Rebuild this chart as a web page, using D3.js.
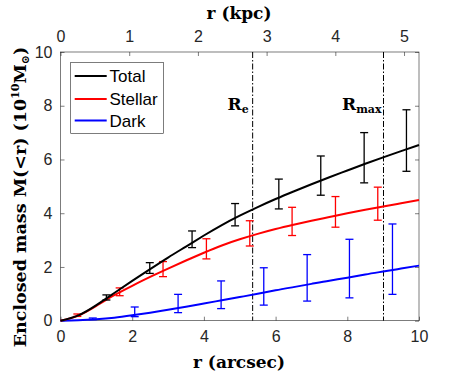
<!DOCTYPE html>
<html>
<head>
<meta charset="utf-8">
<script src="https://cdn.jsdelivr.net/npm/d3@7"></script>
<style>
body { margin: 0; background: #fff; }
</style>
</head>
<body>
<div id="chart"></div>
<script>
// curve samples (arcsec, 10^10 Msun)
var curve_r = [0, 0.5, 1, 1.5, 2, 2.5, 3, 3.5, 4, 4.5, 5, 5.5, 6, 6.5, 7, 7.5, 8, 8.5, 9, 9.5, 10];
var total_m = [0, 0.2, 0.58, 1.03, 1.48, 1.92, 2.35, 2.76, 3.17, 3.56, 3.91, 4.23, 4.53, 4.81, 5.08, 5.34, 5.59, 5.84, 6.08, 6.31, 6.54];
var stellar_m = [0, 0.19, 0.55, 0.95, 1.3, 1.63, 1.94, 2.24, 2.53, 2.8, 3.03, 3.23, 3.41, 3.57, 3.72, 3.86, 4.0, 4.13, 4.25, 4.37, 4.49];
var dark_m = [0, 0.015, 0.05, 0.11, 0.2, 0.3, 0.41, 0.52, 0.64, 0.76, 0.88, 1.0, 1.13, 1.25, 1.37, 1.49, 1.6, 1.72, 1.83, 1.94, 2.05];

// error bars
var total_err_r = [1.28, 2.49, 3.67, 4.87, 6.09, 7.26, 8.47, 9.65];
var total_err_lo = [0.77, 1.76, 2.72, 3.53, 4.16, 4.67, 5.13, 5.56];
var total_err_hi = [0.96, 2.16, 3.34, 4.36, 5.27, 6.13, 7.0, 7.85];
var stellar_err_r = [0.47, 1.65, 2.86, 4.07, 5.28, 6.46, 7.67, 8.85];
var stellar_err_lo = [0.16, 0.93, 1.64, 2.30, 2.78, 3.17, 3.48, 3.74];
var stellar_err_hi = [0.25, 1.22, 2.2, 3.05, 3.72, 4.22, 4.62, 4.97];
var dark_err_r = [0.9, 2.07, 3.28, 4.48, 5.67, 6.88, 8.06, 9.26];
var dark_err_lo = [0.04, 0.15, 0.3, 0.45, 0.58, 0.73, 0.85, 0.98];
var dark_err_hi = [0.1, 0.51, 0.98, 1.48, 1.97, 2.46, 3.03, 3.6];

var series_names = ["Total", "Stellar", "Dark"];
var series_colors = ["#000000", "#ff0000", "#0000ff"];

var x_ticks = [0, 2, 4, 6, 8, 10];
var y_ticks = [0, 2, 4, 6, 8, 10];
var kpc_ticks = [0, 1, 2, 3, 4, 5];
var kpc_max = 5.218; // kpc at 10 arcsec
var r_e = 5.36, r_max = 9.01;

var w = 463, h = 373;
var pad_left = 60.5, pad_right = 419, pad_top = 52, pad_bottom = 320.7;
var axis_col = "#262626";
var tick_font = "'Liberation Sans', Arial, sans-serif";
var label_font = "'DejaVu Serif', 'Liberation Serif', serif";

var svg = d3.select("#chart").append("svg").attr("width", w).attr("height", h);

var xScale = d3.scaleLinear().domain([0, 10]).range([pad_left, pad_right]);
var kpcScale = d3.scaleLinear().domain([0, kpc_max]).range([pad_left, pad_right]);
var yScale = d3.scaleLinear().domain([0, 10]).range([pad_bottom, pad_top]);

function styleAxis(g) {
    g.select(".domain").remove();
    g.selectAll(".tick line").attr("stroke", axis_col).attr("stroke-width", 0.6);
    g.selectAll(".tick text").attr("fill", axis_col).attr("font-family", tick_font).attr("font-size", "16px");
}

// axes (ticks pointing inward)
svg.append("g").attr("transform", "translate(0," + pad_bottom + ")")
    .call(d3.axisBottom(xScale).tickValues(x_ticks).tickSizeInner(-4).tickPadding(10))
    .call(styleAxis);
svg.append("g").attr("transform", "translate(0," + pad_top + ")")
    .call(d3.axisTop(kpcScale).tickValues(kpc_ticks).tickFormat(d3.format("d")).tickSizeInner(-4).tickPadding(10))
    .call(styleAxis);
svg.append("g").attr("transform", "translate(" + pad_left + ",0)")
    .call(d3.axisLeft(yScale).tickValues(y_ticks).tickSizeInner(-4).tickPadding(8))
    .call(styleAxis);
svg.append("g").attr("transform", "translate(" + pad_right + ",0)")
    .call(d3.axisRight(yScale).tickValues(y_ticks).tickSizeInner(-4).tickFormat(""))
    .call(styleAxis);

// box
svg.append("rect")
    .attr("x", pad_left).attr("y", pad_top)
    .attr("width", pad_right - pad_left).attr("height", pad_bottom - pad_top)
    .attr("fill", "none").attr("stroke", axis_col).attr("stroke-width", 0.6);

// Re / Rmax lines
[r_e, r_max].forEach(function (r) {
    svg.append("line")
        .attr("x1", xScale(r)).attr("x2", xScale(r))
        .attr("y1", pad_top).attr("y2", pad_bottom)
        .attr("stroke", "#000").attr("stroke-width", 1)
        .attr("stroke-dasharray", "6,2,1.5,2");
});

var re_txt = svg.append("text").attr("x", xScale(r_e) - 4).attr("y", 110)
    .attr("text-anchor", "end").attr("font-family", label_font).attr("font-weight", "bold")
    .attr("font-size", "17px").attr("fill", "#000");
re_txt.append("tspan").text("R");
re_txt.append("tspan").attr("font-size", "11px").attr("dy", 3).text("e");

var rmax_txt = svg.append("text").attr("x", xScale(r_max) - 2).attr("y", 110)
    .attr("text-anchor", "end").attr("font-family", label_font).attr("font-weight", "bold")
    .attr("font-size", "17px").attr("fill", "#000");
rmax_txt.append("tspan").text("R");
rmax_txt.append("tspan").attr("font-size", "11px").attr("dy", 3).text("max");

// curves
var line = d3.line()
    .x(function (d) { return xScale(d[0]); })
    .y(function (d) { return yScale(d[1]); })
    .curve(d3.curveNatural);

var curves = [total_m, stellar_m, dark_m];
var errs = [
    [total_err_r, total_err_lo, total_err_hi],
    [stellar_err_r, stellar_err_lo, stellar_err_hi],
    [dark_err_r, dark_err_lo, dark_err_hi]
];

// draw dark first so total ends up on top
for (var s = 2; s >= 0; s--) {
    var pts = curve_r.map(function (r, i) { return [r, curves[s][i]]; });
    svg.append("path").datum(pts)
        .attr("d", line)
        .attr("fill", "none")
        .attr("stroke", series_colors[s])
        .attr("stroke-width", 2);

    var e = errs[s];
    var eg = svg.append("g").attr("stroke", series_colors[s]).attr("stroke-width", 1.3);
    for (var i = 0; i < e[0].length; i++) {
        var cx = xScale(e[0][i]);
        var y1 = yScale(e[1][i]), y2 = yScale(e[2][i]);
        eg.append("line").attr("x1", cx).attr("x2", cx).attr("y1", y1).attr("y2", y2);
        eg.append("line").attr("x1", cx - 4).attr("x2", cx + 4).attr("y1", y1).attr("y2", y1);
        eg.append("line").attr("x1", cx - 4).attr("x2", cx + 4).attr("y1", y2).attr("y2", y2);
    }
}

// legend
var legend = svg.append("g");
legend.append("rect")
    .attr("x", 70.7).attr("y", 62.3).attr("width", 92.6).attr("height", 71)
    .attr("fill", "#fff").attr("stroke", axis_col).attr("stroke-width", 0.6);
var leg_y = [76, 99, 120.5];
series_names.forEach(function (name, i) {
    legend.append("line")
        .attr("x1", 74.7).attr("x2", 106.7)
        .attr("y1", leg_y[i]).attr("y2", leg_y[i])
        .attr("stroke", series_colors[i]).attr("stroke-width", 2);
    legend.append("text")
        .attr("x", 109.5).attr("y", leg_y[i] + 6)
        .attr("font-family", tick_font).attr("font-size", "17px").attr("fill", "#000")
        .text(name);
});

// axis labels
svg.append("text")
    .attr("x", 239).attr("y", 368)
    .attr("text-anchor", "middle").attr("font-family", label_font).attr("font-weight", "bold")
    .attr("font-size", "17px").attr("fill", "#000")
    .text("r (arcsec)");

svg.append("text")
    .attr("x", 239).attr("y", 19)
    .attr("text-anchor", "middle").attr("font-family", label_font).attr("font-weight", "bold")
    .attr("font-size", "17px").attr("fill", "#000")
    .text("r (kpc)");

var ylab = svg.append("text")
    .attr("transform", "translate(26,197) rotate(-90)")
    .attr("text-anchor", "middle").attr("font-family", label_font).attr("font-weight", "bold")
    .attr("font-size", "17.5px").attr("fill", "#000");
ylab.append("tspan").text("Enclosed mass M(<r) (10");
ylab.append("tspan").attr("font-size", "11px").attr("dy", -7).text("10");
ylab.append("tspan").attr("dy", 7).text("M");
ylab.append("tspan").attr("font-size", "11px").attr("dy", 3).text("\u2299");
ylab.append("tspan").attr("dy", -3).text(")");
</script>
</body>
</html>
